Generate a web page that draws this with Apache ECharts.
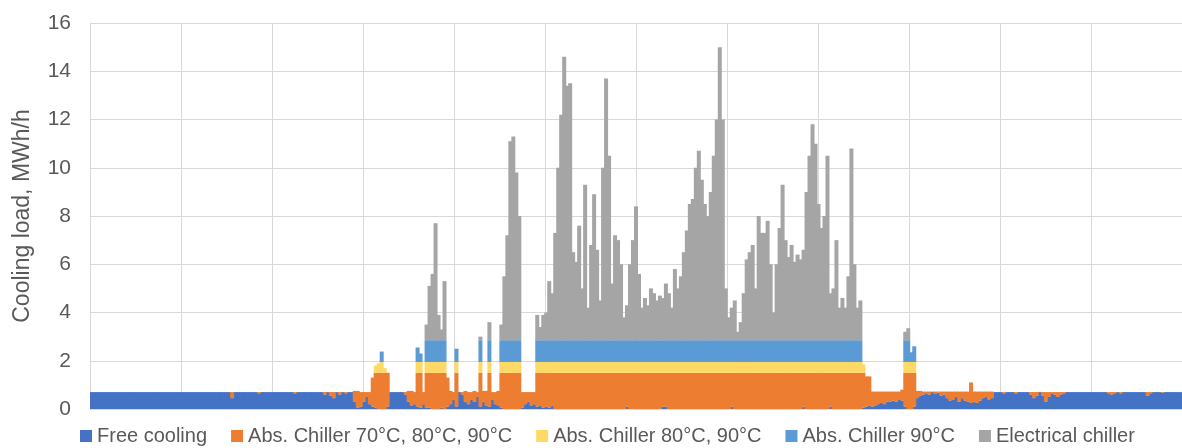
<!DOCTYPE html>
<html><head><meta charset="utf-8">
<script src="https://cdn.jsdelivr.net/npm/echarts@6/dist/echarts.min.js"></script>
<style>html,body{margin:0;padding:0;background:#fff}#c{width:1182px;height:448px}</style>
</head><body><div id="c"></div>
<script>
// Day of year (1..365), one stacked column per day
const days = Array.from({length: 365}, (_, i) => i + 1);

const seriesNames = ['Free cooling', 'Abs. Chiller 70°C, 80°C, 90°C', 'Abs. Chiller 80°C, 90°C', 'Abs. Chiller 90°C', 'Electrical chiller'];
const yTicks = [0, 2, 4, 6, 8, 10, 12, 14, 16];

const freeCooling = [
0.7,0.7,0.7,0.7,0.7,0.7,0.7,0.7,0.7,0.7,
0.7,0.7,0.7,0.7,0.7,0.7,0.7,0.7,0.7,0.7,
0.7,0.7,0.7,0.7,0.7,0.7,0.7,0.7,0.7,0.7,
0.7,0.7,0.7,0.7,0.7,0.7,0.7,0.7,0.7,0.7,
0.7,0.7,0.7,0.7,0.7,0.7,0.7,0.45,0.7,0.7,
0.7,0.7,0.7,0.7,0.7,0.7,0.65,0.7,0.7,0.7,
0.7,0.7,0.7,0.7,0.7,0.7,0.7,0.7,0.65,0.7,
0.7,0.7,0.7,0.7,0.7,0.7,0.7,0.7,0.6,0.7,
0.55,0.45,0.7,0.6,0.7,0.65,0.7,0.7,0.3,0.05,
0.1,0.3,0.5,0.2,0.1,0.05,0,0,0,0.1,
0.7,0.7,0.7,0.7,0.7,0.6,0.3,0.15,0.2,0.1,
0.05,0.2,0.05,0.05,0,0,0,0.05,0,0.1,
0.2,0.4,0.1,0.7,0.6,0.3,0.2,0.4,0.3,0.5,
0.1,0.3,0.15,0.1,0.4,0.2,0.15,0.05,0,0,
0,0,0,0,0.05,0.2,0.3,0.15,0.2,0.1,
0.15,0.05,0.1,0.05,0.15,0,0,0,0,0,
0,0,0,0,0,0,0,0,0,0,
0,0,0,0,0,0,0,0,0,0.1,
0,0,0,0,0,0,0,0,0,0,
0,0.1,0.1,0,0,0,0,0,0,0,
0,0,0,0,0,0,0,0,0,0,
0,0,0,0,0.1,0,0,0,0,0,
0,0,0,0,0,0,0,0,0,0,
0,0,0,0,0,0,0,0,0.1,0,
0,0,0,0,0,0,0,0.1,0,0,
0,0,0,0,0,0,0,0,0.05,0.1,
0.15,0.1,0.15,0.2,0.25,0.2,0.3,0.3,0.35,0.3,
0.4,0.35,0.1,0,0,0.1,0.45,0.55,0.6,0.65,
0.6,0.7,0.62,0.68,0.55,0.6,0.45,0.35,0.4,0.5,
0.3,0.45,0.35,0.3,0.25,0.3,0.25,0.35,0.45,0.5,
0.4,0.45,0.7,0.7,0.7,0.65,0.7,0.7,0.7,0.65,
0.7,0.7,0.7,0.7,0.6,0.45,0.55,0.7,0.55,0.3,
0.5,0.65,0.6,0.5,0.6,0.65,0.7,0.7,0.7,0.7,
0.7,0.7,0.7,0.7,0.7,0.7,0.7,0.7,0.7,0.7,
0.65,0.6,0.65,0.7,0.65,0.7,0.7,0.7,0.7,0.7,
0.7,0.7,0.7,0.55,0.65,0.7,0.7,0.7,0.68,0.7,
0.7,0.7,0.7,0.7,0.7
];

const absChiller708090 = [
0,0,0,0,0,0,0,0,0,0,
0,0,0,0,0,0,0,0,0,0,
0,0,0,0,0,0,0,0,0,0,
0,0,0,0,0,0,0,0,0,0,
0,0,0,0,0,0,0,0.25,0,0,
0,0,0,0,0,0,0.05,0,0,0,
0,0,0,0,0,0,0,0,0.05,0,
0,0,0,0,0,0,0,0,0.1,0,
0.15,0.25,0,0.1,0,0.05,0,0,0.45,0.7,
0.6,0.4,0.2,0.5,1.2,1.45,1.5,1.5,1.5,1.4,
0,0,0,0,0,0.1,0.45,0.6,0.5,1.4,
1.45,0.5,1.45,1.45,1.5,1.5,1.5,1.45,1.5,1.2,
0.55,0.3,1.4,0,0.1,0.45,0.5,0.3,0.45,0.2,
1.4,0.45,0.6,1.4,0.3,0.5,0.6,1.45,1.5,1.5,
1.5,1.5,1.5,1.5,0.65,0.5,0.4,0.55,0.5,1.4,
1.35,1.45,1.4,1.45,1.35,1.5,1.5,1.5,1.5,1.5,
1.5,1.5,1.5,1.5,1.5,1.5,1.5,1.5,1.5,1.5,
1.5,1.5,1.5,1.5,1.5,1.5,1.5,1.5,1.5,1.4,
1.5,1.5,1.5,1.5,1.5,1.5,1.5,1.5,1.5,1.5,
1.5,1.4,1.4,1.5,1.5,1.5,1.5,1.5,1.5,1.5,
1.5,1.5,1.5,1.5,1.5,1.5,1.5,1.5,1.5,1.5,
1.5,1.5,1.5,1.5,1.4,1.5,1.5,1.5,1.5,1.5,
1.5,1.5,1.5,1.5,1.5,1.5,1.5,1.5,1.5,1.5,
1.5,1.5,1.5,1.5,1.5,1.5,1.5,1.5,1.4,1.5,
1.5,1.5,1.5,1.5,1.5,1.5,1.5,1.4,1.5,1.5,
1.5,1.5,1.5,1.5,1.5,1.5,1.5,1.5,1.45,1.25,
1.2,0.62,0.57,0.52,0.47,0.52,0.42,0.42,0.37,0.42,
0.32,0.45,1.4,1.5,1.5,1.4,0.3,0.2,0.12,0.07,
0.12,0.02,0.1,0.04,0.17,0.12,0.27,0.37,0.32,0.22,
0.42,0.27,0.37,0.42,0.85,0.42,0.47,0.37,0.27,0.22,
0.32,0.27,0,0,0,0.05,0,0,0,0.05,
0,0,0,0,0.1,0.25,0.15,0,0.15,0.4,
0.2,0.05,0.1,0.2,0.1,0.05,0,0,0,0,
0,0,0,0,0,0,0,0,0,0,
0.05,0.1,0.05,0,0.05,0,0,0,0,0,
0,0,0,0.15,0.05,0,0,0,0.02,0,
0,0,0,0,0
];

const absChiller8090 = [
0,0,0,0,0,0,0,0,0,0,
0,0,0,0,0,0,0,0,0,0,
0,0,0,0,0,0,0,0,0,0,
0,0,0,0,0,0,0,0,0,0,
0,0,0,0,0,0,0,0,0,0,
0,0,0,0,0,0,0,0,0,0,
0,0,0,0,0,0,0,0,0,0,
0,0,0,0,0,0,0,0,0,0,
0,0,0,0,0,0,0,0,0,0,
0,0,0,0,0,0.3,0.4,0.45,0.2,0,
0,0,0,0,0,0,0,0,0,0.45,
0.45,0,0.45,0.45,0.45,0.45,0.45,0.45,0.45,0,
0,0,0.45,0,0,0,0,0,0,0,
0.45,0,0,0.45,0,0,0,0.45,0.45,0.45,
0.45,0.45,0.45,0.45,0,0,0,0,0,0.45,
0.45,0.45,0.45,0.45,0.45,0.45,0.45,0.45,0.45,0.45,
0.45,0.45,0.45,0.45,0.45,0.45,0.45,0.45,0.45,0.45,
0.45,0.45,0.45,0.45,0.45,0.45,0.45,0.45,0.45,0.45,
0.45,0.45,0.45,0.45,0.45,0.45,0.45,0.45,0.45,0.45,
0.45,0.45,0.45,0.45,0.45,0.45,0.45,0.45,0.45,0.45,
0.45,0.45,0.45,0.45,0.45,0.45,0.45,0.45,0.45,0.45,
0.45,0.45,0.45,0.45,0.45,0.45,0.45,0.45,0.45,0.45,
0.45,0.45,0.45,0.45,0.45,0.45,0.45,0.45,0.45,0.45,
0.45,0.45,0.45,0.45,0.45,0.45,0.45,0.45,0.45,0.45,
0.45,0.45,0.45,0.45,0.45,0.45,0.45,0.45,0.45,0.45,
0.45,0.45,0.45,0.45,0.45,0.45,0.45,0.45,0.35,0,
0,0,0,0,0,0,0,0,0,0,
0,0,0.45,0.45,0.45,0.45,0,0,0,0,
0,0,0,0,0,0,0,0,0,0,
0,0,0,0,0,0,0,0,0,0,
0,0,0,0,0,0,0,0,0,0,
0,0,0,0,0,0,0,0,0,0,
0,0,0,0,0,0,0,0,0,0,
0,0,0,0,0,0,0,0,0,0,
0,0,0,0,0,0,0,0,0,0,
0,0,0,0,0,0,0,0,0,0,
0,0,0,0,0
];

const absChiller90 = [
0,0,0,0,0,0,0,0,0,0,
0,0,0,0,0,0,0,0,0,0,
0,0,0,0,0,0,0,0,0,0,
0,0,0,0,0,0,0,0,0,0,
0,0,0,0,0,0,0,0,0,0,
0,0,0,0,0,0,0,0,0,0,
0,0,0,0,0,0,0,0,0,0,
0,0,0,0,0,0,0,0,0,0,
0,0,0,0,0,0,0,0,0,0,
0,0,0,0,0,0,0,0.43,0,0,
0,0,0,0,0,0,0,0,0,0.6,
0.35,0,0.9,0.9,0.9,0.9,0.9,0.9,0.9,0,
0,0,0.55,0,0,0,0,0,0,0,
0.9,0,0,0.9,0,0,0,0.9,0.9,0.9,
0.9,0.9,0.9,0.9,0,0,0,0,0,0.9,
0.9,0.9,0.9,0.9,0.9,0.9,0.9,0.9,0.9,0.9,
0.9,0.9,0.9,0.9,0.9,0.9,0.9,0.9,0.9,0.9,
0.9,0.9,0.9,0.9,0.9,0.9,0.9,0.9,0.9,0.9,
0.9,0.9,0.9,0.9,0.9,0.9,0.9,0.9,0.9,0.9,
0.9,0.9,0.9,0.9,0.9,0.9,0.9,0.9,0.9,0.9,
0.9,0.9,0.9,0.9,0.9,0.9,0.9,0.9,0.9,0.9,
0.9,0.9,0.9,0.9,0.9,0.9,0.9,0.9,0.9,0.9,
0.9,0.9,0.9,0.9,0.9,0.9,0.9,0.9,0.9,0.9,
0.9,0.9,0.9,0.9,0.9,0.9,0.9,0.9,0.9,0.9,
0.9,0.9,0.9,0.9,0.9,0.9,0.9,0.9,0.9,0.9,
0.9,0.9,0.9,0.9,0.9,0.9,0.9,0.9,0,0,
0,0,0,0,0,0,0,0,0,0,
0,0,0.9,0.9,0.4,0.65,0,0,0,0,
0,0,0,0,0,0,0,0,0,0,
0,0,0,0,0,0,0,0,0,0,
0,0,0,0,0,0,0,0,0,0,
0,0,0,0,0,0,0,0,0,0,
0,0,0,0,0,0,0,0,0,0,
0,0,0,0,0,0,0,0,0,0,
0,0,0,0,0,0,0,0,0,0,
0,0,0,0,0,0,0,0,0,0,
0,0,0,0,0
];

const electricalChiller = [
0,0,0,0,0,0,0,0,0,0,
0,0,0,0,0,0,0,0,0,0,
0,0,0,0,0,0,0,0,0,0,
0,0,0,0,0,0,0,0,0,0,
0,0,0,0,0,0,0,0,0,0,
0,0,0,0,0,0,0,0,0,0,
0,0,0,0,0,0,0,0,0,0,
0,0,0,0,0,0,0,0,0,0,
0,0,0,0,0,0,0,0,0,0,
0,0,0,0,0,0,0,0,0,0,
0,0,0,0,0,0,0,0,0,0,
0,0,0.65,2.25,2.75,4.85,1.05,0.45,2.45,0,
0,0,0,0,0,0,0,0,0,0,
0.15,0,0,0.75,0,0,0,0.65,2.65,4.35,
8.25,8.45,6.95,5.15,0,0,0,0,0,1.05,
0.55,1.05,1.15,2.45,1.95,4.45,7.15,9.35,11.75,10.55,
10.65,3.65,3.25,4.75,2.15,6.45,1.35,3.95,6.05,3.75,
1.65,7.15,10.85,7.65,2.35,4.35,4.15,3.15,0.95,1.45,
3.15,4.15,5.55,2.75,1.35,1.75,1.45,2.15,1.95,1.65,
1.85,1.75,2.35,1.95,1.35,2.95,2.15,2.65,3.65,4.55,
5.65,5.85,7.15,7.85,6.65,5.65,5.15,6.15,7.65,9.15,
12.15,9.15,2.15,0.95,1.35,1.65,0.35,0.75,1.95,3.35,
3.65,3.95,2.15,5.15,4.45,4.45,4.95,3.15,1.15,3.15,
4.65,6.45,4.15,3.45,3.95,3.25,3.55,3.35,3.75,6.15,
7.65,8.95,8.15,5.65,4.65,5.15,7.65,1.95,2.15,4.15,
1.35,1.75,1.35,2.65,7.95,3.15,1.35,1.65,0,0,
0,0,0,0,0,0,0,0,0,0,
0,0,0.35,0.5,0,0,0,0,0,0,
0,0,0,0,0,0,0,0,0,0,
0,0,0,0,0,0,0,0,0,0,
0,0,0,0,0,0,0,0,0,0,
0,0,0,0,0,0,0,0,0,0,
0,0,0,0,0,0,0,0,0,0,
0,0,0,0,0,0,0,0,0,0,
0,0,0,0,0,0,0,0,0,0,
0,0,0,0,0,0,0,0,0,0,
0,0,0,0,0
];

const colors = ['#4472C4', '#ED7D31', '#FFD966', '#5B9BD5', '#A5A5A5'];
const values = [freeCooling, absChiller708090, absChiller8090, absChiller90, electricalChiller];
const FONT = 'Liberation Sans, Arial, sans-serif';
const TXT = '#595959';

const chart = echarts.init(document.getElementById('c'), null, {renderer: 'canvas'});
chart.setOption({
  animation: false,
  backgroundColor: '#ffffff',
  color: colors,
  grid: {left: 90, top: 23, width: 1095, height: 386, containLabel: false},
  legend: {
    data: seriesNames,
    left: 80, top: 426, padding: 0,
    itemWidth: 12, itemHeight: 12, itemGap: 24,
    icon: 'rect',
    textStyle: {fontSize: 20, color: TXT, fontFamily: FONT},
    selectedMode: false
  },
  xAxis: [
    {type: 'category', data: days, boundaryGap: true,
     axisLine: {show: false}, axisTick: {show: false}, axisLabel: {show: false}, splitLine: {show: false}},
    {type: 'value', min: 0, max: 365, interval: 365 / 12, position: 'bottom',
     axisLine: {show: false}, axisTick: {show: false}, axisLabel: {show: false},
     splitLine: {show: true, lineStyle: {color: '#D9D9D9', width: 1}}}
  ],
  yAxis: {
    type: 'value', min: yTicks[0], max: yTicks[yTicks.length - 1], interval: 2,
    axisLine: {show: false}, axisTick: {show: false},
    axisLabel: {fontSize: 21, color: TXT, fontFamily: FONT, margin: 19},
    splitLine: {lineStyle: {color: '#D9D9D9', width: 1}},
    name: 'Cooling load, MWh/h', nameLocation: 'middle', nameRotate: 90, nameGap: 56,
    nameTextStyle: {fontSize: 23, color: TXT, fontFamily: FONT}
  },
  series: seriesNames.map((n, k) => ({
    name: n, type: 'bar', stack: 'load', xAxisIndex: 0,
    barWidth: 4, barGap: '-100%',
    data: values[k],
    itemStyle: {color: colors[k]},
    emphasis: {disabled: true}
  }))
});
</script>
</body></html>
